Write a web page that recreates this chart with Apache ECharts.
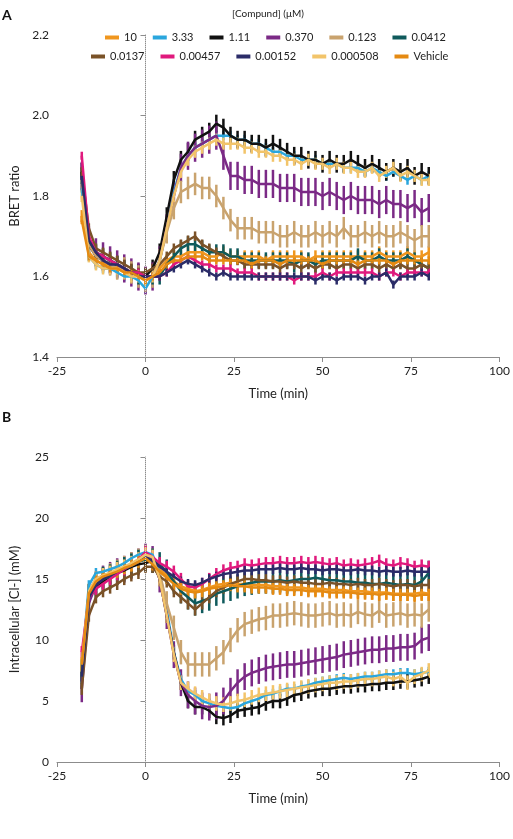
<!DOCTYPE html>
<html>
<head>
<meta charset="utf-8">
<script src="https://cdn.jsdelivr.net/npm/echarts@6/dist/echarts.min.js"></script>
<style>html,body{margin:0;padding:0;background:#fff}#main{width:513px;height:839px}</style>
</head>
<body>
<div id="main"></div>
<script>
// time points (min)
const times = []
for (let t = -18; t <= 80; t += 2) times.push(t)

const names = ['10', '3.33', '1.11', '0.370', '0.123', '0.0412', '0.0137', '0.00457', '0.00152', '0.000508', 'Vehicle']
const colors = ['#f0961e', '#2aa6dd', '#111111', '#7b2a86', '#c9a36e', '#0f5a5c', '#7a5228', '#e0197d', '#2b2c68', '#f2c46a', '#e58a12']

// panel A: BRET ratio
const bret10 = [1.75,1.66,1.64,1.63,1.63,1.62,1.62,1.61,1.6,1.59, 1.6,1.62,1.64,1.65,1.65,1.66,1.66,1.66,1.65,1.65,1.66,1.65,1.65,1.65,1.65,1.65,1.64,1.65,1.65,1.65,1.65,1.65,1.64,1.65,1.65,1.65,1.65,1.65,1.65,1.65,1.65,1.65,1.66,1.65,1.65,1.65,1.66,1.65,1.65,1.66]
const bret333 = [1.82,1.65,1.63,1.62,1.62,1.61,1.6,1.6,1.59,1.57, 1.6,1.64,1.72,1.81,1.87,1.9,1.92,1.93,1.94,1.95,1.95,1.95,1.94,1.94,1.93,1.93,1.92,1.91,1.91,1.9,1.9,1.89,1.89,1.89,1.88,1.88,1.88,1.87,1.87,1.87,1.86,1.87,1.86,1.85,1.86,1.85,1.84,1.85,1.84,1.85]
const bret111 = [1.86,1.68,1.65,1.64,1.63,1.63,1.62,1.61,1.61,1.6, 1.62,1.66,1.75,1.84,1.89,1.91,1.94,1.95,1.96,1.98,1.97,1.95,1.94,1.94,1.93,1.93,1.92,1.93,1.92,1.91,1.9,1.9,1.89,1.89,1.88,1.89,1.88,1.88,1.89,1.88,1.87,1.88,1.87,1.86,1.87,1.86,1.87,1.85,1.86,1.85]
const bret370 = [1.85,1.69,1.66,1.65,1.64,1.63,1.62,1.61,1.6,1.59, 1.6,1.64,1.72,1.8,1.87,1.9,1.92,1.93,1.94,1.95,1.9,1.85,1.85,1.84,1.84,1.83,1.83,1.83,1.82,1.82,1.82,1.81,1.81,1.81,1.8,1.81,1.8,1.79,1.8,1.79,1.79,1.79,1.78,1.79,1.78,1.78,1.77,1.78,1.76,1.77]
const bret123 = [1.84,1.68,1.65,1.64,1.63,1.62,1.62,1.61,1.6,1.59, 1.6,1.64,1.71,1.77,1.81,1.82,1.83,1.82,1.82,1.8,1.77,1.74,1.72,1.72,1.72,1.71,1.71,1.71,1.7,1.7,1.71,1.7,1.7,1.71,1.7,1.71,1.7,1.72,1.7,1.7,1.71,1.7,1.71,1.7,1.7,1.71,1.7,1.69,1.7,1.7]
const bret0412 = [1.85,1.69,1.66,1.65,1.64,1.63,1.62,1.61,1.6,1.6, 1.6,1.6,1.63,1.65,1.67,1.68,1.68,1.67,1.66,1.66,1.66,1.65,1.65,1.64,1.64,1.64,1.64,1.64,1.64,1.64,1.63,1.64,1.64,1.63,1.64,1.64,1.64,1.64,1.64,1.65,1.64,1.64,1.65,1.64,1.64,1.64,1.65,1.64,1.63,1.62]
const bret0137 = [1.86,1.72,1.67,1.66,1.65,1.64,1.63,1.62,1.61,1.61, 1.62,1.63,1.65,1.67,1.68,1.69,1.7,1.68,1.67,1.66,1.65,1.64,1.64,1.63,1.63,1.63,1.63,1.63,1.62,1.63,1.63,1.62,1.63,1.62,1.63,1.63,1.62,1.63,1.63,1.62,1.63,1.63,1.62,1.63,1.62,1.63,1.62,1.62,1.63,1.62]
const bret00457 = [1.9,1.7,1.66,1.65,1.64,1.63,1.62,1.61,1.61,1.6, 1.6,1.6,1.61,1.63,1.64,1.65,1.64,1.63,1.63,1.62,1.62,1.62,1.61,1.61,1.61,1.6,1.6,1.6,1.6,1.6,1.59,1.6,1.6,1.6,1.61,1.6,1.61,1.61,1.61,1.61,1.61,1.61,1.6,1.61,1.61,1.6,1.61,1.61,1.61,1.61]
const bret00152 = [1.85,1.69,1.66,1.64,1.63,1.63,1.62,1.61,1.6,1.6, 1.6,1.6,1.61,1.62,1.63,1.64,1.63,1.62,1.61,1.6,1.61,1.6,1.6,1.6,1.6,1.6,1.6,1.6,1.6,1.6,1.6,1.6,1.6,1.59,1.6,1.6,1.59,1.6,1.6,1.6,1.59,1.6,1.6,1.61,1.58,1.6,1.6,1.6,1.61,1.6]
const bret000508 = [1.8,1.65,1.63,1.62,1.62,1.62,1.61,1.6,1.6,1.59, 1.6,1.64,1.72,1.8,1.86,1.89,1.91,1.92,1.93,1.94,1.93,1.93,1.93,1.92,1.92,1.91,1.91,1.9,1.9,1.89,1.89,1.88,1.89,1.88,1.88,1.87,1.88,1.87,1.87,1.86,1.86,1.87,1.85,1.86,1.87,1.85,1.86,1.85,1.84,1.84]
const bretVeh = [1.74,1.65,1.64,1.63,1.62,1.62,1.61,1.61,1.6,1.59, 1.6,1.61,1.63,1.64,1.64,1.65,1.65,1.65,1.64,1.64,1.64,1.64,1.64,1.64,1.63,1.64,1.64,1.64,1.63,1.64,1.64,1.64,1.64,1.64,1.63,1.64,1.64,1.64,1.64,1.63,1.64,1.64,1.64,1.64,1.63,1.64,1.64,1.64,1.64,1.64]
const bretData = [bret10, bret333, bret111, bret370, bret123, bret0412, bret0137, bret00457, bret00152, bret000508, bretVeh]
const bretErr = [0.015, 0.012, 0.022, 0.035, 0.028, 0.02, 0.012, 0.01, 0.01, 0.015, 0.01]

// panel B: intracellular [Cl-] (mM)
const cl10 = [8,14,15,15.3,15.5,15.7,16,16.2,16.5,16.8, 16.3,15.8,15.3,14.8,14.4,14.2,14,14.1,14.3,14.5,14.6,14.7,14.6,14.6,14.5,14.5,14.5,14.4,14.4,14.3,14.3,14.3,14.2,14.2,14.2,14.1,14.1,14.1,14,14,14,13.9,13.9,13.9,13.8,13.8,13.8,13.8,13.9,13.8]
const cl333 = [8,14.5,15.5,15.6,15.8,16,16.3,16.7,17,17.2, 17,15.5,12.5,9,6.8,5.8,5.5,5,4.8,4.6,4.5,4.4,4.5,4.8,5,5.2,5.5,5.6,5.8,6,6,6.2,6.3,6.5,6.6,6.7,6.8,6.9,6.8,6.9,7,7,7.1,7.2,7.2,7.3,7.3,7.2,7.3,7.4]
const cl111 = [7,14,14.3,14.8,15.2,15.5,15.7,16,16.2,16.3, 16.5,15,12,9,6.5,5,4.5,4.5,4.2,3.7,3.6,3.8,4.2,4.3,4.4,4.5,4.8,5,5,5.2,5.5,5.6,5.8,5.9,6,6,6.1,6.2,6.2,6.3,6.3,6.4,6.4,6.5,6.5,6.6,6.6,6.7,6.8,7]
const cl370 = [6,13,14.5,15,15.3,15.6,15.8,16.1,16.4,16.8, 16.6,15,12,8.8,6.5,5.5,5,4.6,4.5,4.6,5,5.8,6.5,7,7.3,7.5,7.7,7.8,7.9,8,8,8.1,8.2,8.3,8.4,8.5,8.6,8.8,8.9,9,9.1,9.2,9.2,9.3,9.3,9.4,9.4,9.5,10,10.2]
const cl123 = [7,13.5,14.6,15,15.3,15.6,15.9,16.2,16.5,16.8, 16.5,15.5,13,11,9,8,8,8,8,8.5,9,10,10.8,11.3,11.5,11.7,11.8,12,12,12.1,12.2,12.1,12,12,12.1,12.2,12,12.1,12,12.3,12.1,12,12.4,12,12.1,12.2,12,12.1,12,12.5]
const cl0412 = [7,13.5,14.5,15,15.2,15.5,15.8,16.1,16.4,16.6, 16.5,16.2,15.6,14.8,14,13.5,13,13.2,13.4,13.8,14,14.2,14.4,14.6,14.7,14.8,14.8,14.8,14.9,14.8,14.9,15,15,15.1,15,14.9,14.9,14.8,14.8,14.7,14.7,14.6,14.6,14.7,14.6,14.5,14.6,14.5,14.8,15.5]
const cl0137 = [6,12,13.5,14,14.3,14.6,15,15.3,15.5,16, 16,15.2,14.8,14,13.5,13,12.5,13,13.5,14,14.3,14.6,14.8,15,15,14.9,14.9,14.8,14.8,14.7,14.8,14.7,14.7,14.6,14.6,14.7,14.6,14.6,14.5,14.6,14.5,14.5,14.6,14.5,14.4,14.5,14.5,14.4,14.5,14.5]
const cl00457 = [9,13.5,14.2,14.6,15,15.4,15.8,16.2,16.6,17.2, 16.8,16.3,16,15.6,15,14.4,14.3,14.6,15,15.4,15.7,15.9,16,16.2,16.1,16.2,16.3,16.3,16.4,16.3,16.3,16.4,16.3,16.4,16.3,16.2,16.3,16.1,16.2,16.1,16.2,16.3,16.5,16.2,16.1,16.3,16.2,16,16.1,16]
const cl00152 = [7,13.5,14.5,15,15.3,15.6,15.9,16.2,16.5,16.8, 16.5,16,15.6,15.2,14.8,14.6,14.5,14.7,15,15.2,15.4,15.5,15.6,15.7,15.7,15.8,15.8,15.8,15.9,15.8,15.8,15.9,15.8,15.8,15.7,15.8,15.8,15.7,15.7,15.8,15.7,15.7,15.6,15.7,15.6,15.6,15.7,15.6,15.6,15.6]
const cl000508 = [8,14,15,15.3,15.5,15.8,16,16.3,16.6,17, 16.8,15,12,8.8,6.5,6,5.6,5.3,5,4.8,4.7,4.8,5,5.1,5.3,5.5,5.6,5.7,5.8,5.9,6,6.1,6.2,6.3,6.4,6.5,6.5,6.6,6.6,6.7,6.8,6.8,6.9,7,6.8,7,6.5,7,7.2,7.5]
const clVeh = [8,13.8,14.8,15.2,15.4,15.6,15.9,16.1,16.4,16.7, 16.2,15.6,15.1,14.6,14.2,14,13.9,14,14.2,14.3,14.4,14.5,14.4,14.4,14.3,14.3,14.3,14.2,14.2,14.1,14.1,14.1,14,14,14,13.9,13.9,13.9,13.9,13.8,13.8,13.8,13.7,13.8,13.7,13.7,13.7,13.6,13.7,13.7]
const clData = [cl10, cl333, cl111, cl370, cl123, cl0412, cl0137, cl00457, cl00152, cl000508, clVeh]
const clErr = [0.6, 0.4, 0.6, 1.1, 1.0, 1.0, 0.5, 0.5, 0.4, 0.6, 0.5]

const font = 'Lato'
const axisGrey = '#8c8c8c'

function xAxis (gridIndex) {
  return {
    type: 'value', gridIndex, min: -25, max: 100, interval: 25,
    name: 'Time (min)', nameLocation: 'middle', nameGap: 30,
    nameTextStyle: { fontFamily: font, fontSize: 13, color: '#222' },
    axisLine: { lineStyle: { color: axisGrey } },
    axisTick: { length: 5, lineStyle: { color: axisGrey } },
    axisLabel: { fontFamily: font, fontSize: 12, color: '#222' },
    splitLine: { show: false }
  }
}
function yAxis (gridIndex, min, max, interval, name, dec) {
  return {
    type: 'value', gridIndex, min, max, interval,
    name, nameLocation: 'middle', nameGap: 36,
    nameTextStyle: { fontFamily: font, fontSize: 13, color: '#222' },
    axisLine: { show: true, lineStyle: { color: axisGrey } },
    axisTick: { show: true, length: 5, lineStyle: { color: axisGrey } },
    axisLabel: { fontFamily: font, fontSize: 12, color: '#222', formatter: v => v.toFixed(dec) },
    splitLine: { show: false }
  }
}

const series = []
function addPanel (dataList, errList, idx) {
  dataList.forEach((vals, i) => {
    const pts = times.map((t, k) => [t, vals[k]])
    series.push({
      type: 'custom', xAxisIndex: idx, yAxisIndex: idx, silent: true,
      data: pts.map(p => [p[0], p[1], errList[i]]),
      renderItem (params, api) {
        const lo = api.coord([api.value(0), api.value(1) - api.value(2)])
        const hi = api.coord([api.value(0), api.value(1) + api.value(2)])
        return { type: 'line', shape: { x1: lo[0], y1: lo[1], x2: hi[0], y2: hi[1] }, style: { stroke: colors[i], lineWidth: 2.5 } }
      },
      z: 2
    })
    const s = {
      name: names[i], type: 'line', xAxisIndex: idx, yAxisIndex: idx,
      data: pts, showSymbol: false, color: colors[i],
      lineStyle: { width: 2.5 }, z: 3
    }
    if (i === 0) {
      s.markLine = { silent: true, symbol: 'none', label: { show: false },
        lineStyle: { color: '#cfcfcf', type: 'dotted', width: 1 }, data: [{ xAxis: 0 }] }
    }
    series.push(s)
  })
}
addPanel(bretData, bretErr, 0)
addPanel(clData, clErr, 1)

const legendBase = {
  icon: 'rect', itemWidth: 14, itemHeight: 4, itemGap: 16,
  textStyle: { fontFamily: font, fontSize: 11, color: '#222' }, selectedMode: false
}

const chart = echarts.init(document.getElementById('main'))
chart.setOption({
  animation: false,
  title: { text: '[Compund] (μM)', left: 263, top: 4, textAlign: 'center', textStyle: { fontFamily: font, fontSize: 10, fontWeight: 'normal', color: '#222' } },
  legend: [
    Object.assign({ data: names.slice(0, 6), left: 100, top: 27 }, legendBase),
    Object.assign({ data: names.slice(6), left: 86, top: 46 }, legendBase)
  ],
  graphic: [
    { type: 'text', left: 2, top: 8, style: { text: 'A', font: 'bold 14px Lato', fill: '#111' } },
    { type: 'text', left: 2, top: 410, style: { text: 'B', font: 'bold 14px Lato', fill: '#111' } }
  ],
  grid: [
    { left: 53, right: 11, top: 35, height: 322 },
    { left: 53, right: 11, top: 457, height: 305 }
  ],
  xAxis: [xAxis(0), xAxis(1)],
  yAxis: [
    yAxis(0, 1.4, 2.2, 0.2, 'BRET ratio', 1),
    yAxis(1, 0, 25, 5, 'Intracellular [Cl-] (mM)', 0)
  ],
  series
})
</script>
</body>
</html>
